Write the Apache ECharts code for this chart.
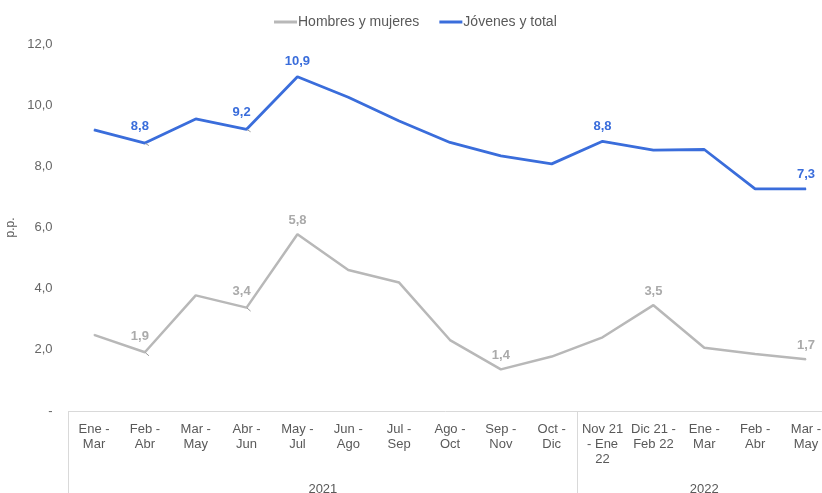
<!DOCTYPE html>
<html><head><meta charset="utf-8">
<script src="https://cdn.jsdelivr.net/npm/echarts@6/dist/echarts.min.js"></script>
<style>html,body{margin:0;padding:0;background:#fff;overflow:hidden}#c{width:822px;height:493px}</style>
</head><body><div id="c"></div>
<script>
var categories = ['Ene -\nMar','Feb -\nAbr','Mar -\nMay','Abr -\nJun','May -\nJul','Jun -\nAgo','Jul -\nSep','Ago -\nOct','Sep -\nNov','Oct -\nDic','Nov 21\n- Ene\n22','Dic 21 -\nFeb 22','Ene -\nMar','Feb -\nAbr','Mar -\nMay'];
var years = ['2021','2022'];
var yearSpans = [10, 5];
var hombres = [2.49, 1.92, 3.78, 3.38, 5.78, 4.61, 4.20, 2.32, 1.36, 1.78, 2.41, 3.46, 2.07, 1.86, 1.69];
var jovenes = [9.19, 8.76, 9.55, 9.21, 10.93, 10.26, 9.48, 8.78, 8.34, 8.08, 8.82, 8.53, 8.55, 7.26, 7.26];
var hombresLabeled = [1, 3, 4, 8, 11, 14];
var jovenesLabeled = [1, 3, 4, 10, 14];
var shiftedLabels = [1, 3];
var yTicks = [0, 2, 4, 6, 8, 10, 12];

var BLUE = '#3a6ddb', GRAY = '#b8b8b8';
function fmt(v){ return v.toFixed(1).replace('.', ','); }
function build(vals, labeled, shiftSet){
  return vals.map(function(v, i){
    var item = {value: v};
    if (labeled.indexOf(i) >= 0) {
      var lab = {show: true};
      if (shiftSet.indexOf(i) >= 0) {
        lab.offset = [-5, -2];
        item.labelLine = {show: true, lineStyle: {color: '#999', width: 1}};
      }
      item.label = lab;
    }
    return item;
  });
}
var bounds = [0], centres = [], acc = 0;
yearSpans.forEach(function(s){ centres.push(acc + s/2); acc += s; bounds.push(acc); });

var chart = echarts.init(document.getElementById('c'), null, {renderer: 'canvas'});
chart.setOption({
  animation: false,
  textStyle: {fontFamily: 'Liberation Sans, Arial, sans-serif'},
  legend: {
    top: 10, left: 269, itemGap: 20, itemWidth: 23, itemHeight: 3, icon: 'rect',
    textStyle: {fontSize: 14, color: '#595959', padding: [0,0,0,-4]},
    data: [{name: 'Hombres y mujeres', itemStyle: {color: GRAY}}, {name: 'Jóvenes y total', itemStyle: {color: BLUE}}]
  },
  grid: {left: 68.6, right: -9.4, top: 44, bottom: 82, containLabel: false, outerBoundsMode: 'none'},
  xAxis: [{
    type: 'category', data: categories, boundaryGap: true,
    axisLine: {show: true, lineStyle: {color: '#d9d9d9', width: 1}},
    axisTick: {show: false},
    axisLabel: {interval: 0, fontSize: 13, lineHeight: 15, color: '#595959', margin: 11}
  }, {
    type: 'value', min: 0, max: 15, position: 'bottom',
    axisLine: {show: false}, splitLine: {show: false},
    axisTick: {show: true, customValues: bounds, length: 82, lineStyle: {color: '#d9d9d9', width: 1}},
    axisLabel: {show: true, customValues: centres, margin: 72, fontSize: 13, color: '#595959',
      formatter: function(v){ var k = centres.indexOf(v); return k >= 0 ? years[k] : ''; }}
  }],
  yAxis: {
    type: 'value', min: yTicks[0], max: yTicks[yTicks.length-1], interval: 2,
    name: 'p.p.', nameLocation: 'middle', nameGap: 47, nameRotate: 90,
    nameTextStyle: {fontSize: 12, color: '#595959'},
    axisLine: {show: false}, axisTick: {show: false}, splitLine: {show: false},
    axisLabel: {fontSize: 13, color: '#666', margin: 16, formatter: function(v){ return v === 0 ? '-' : fmt(v); }}
  },
  series: [{
    name: 'Hombres y mujeres', type: 'line', data: build(hombres, hombresLabeled, shiftedLabels),
    symbol: 'circle', symbolSize: 1, showSymbol: true,
    lineStyle: {color: GRAY, width: 2.5}, itemStyle: {color: GRAY},
    label: {show: false, position: 'top', distance: 7, fontSize: 13, fontWeight: 'bold', color: '#aaaaaa',
      formatter: function(p){ return fmt(p.value); }},
    z: 2
  }, {
    name: 'Jóvenes y total', type: 'line', data: build(jovenes, jovenesLabeled, shiftedLabels),
    symbol: 'circle', symbolSize: 1, showSymbol: true,
    lineStyle: {color: BLUE, width: 2.8}, itemStyle: {color: BLUE},
    label: {show: false, position: 'top', distance: 8, fontSize: 13, fontWeight: 'bold', color: BLUE,
      formatter: function(p){ return fmt(p.value); }},
    z: 3
  }]
});
</script></body></html>
